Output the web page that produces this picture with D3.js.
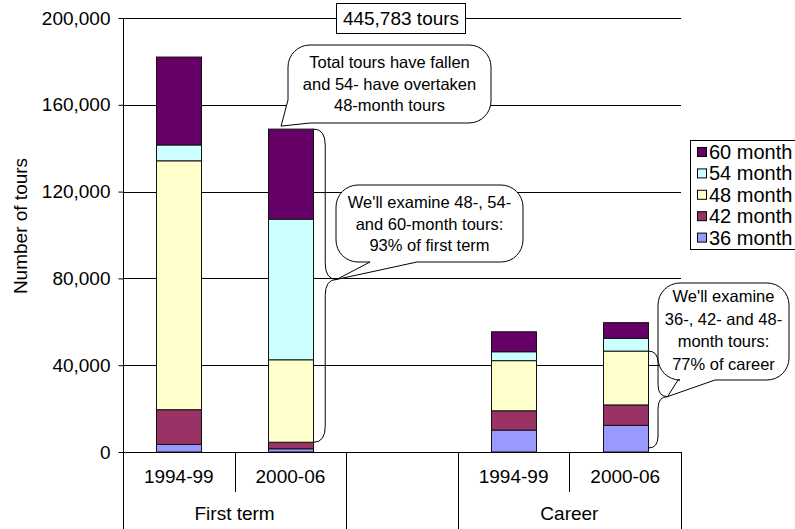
<!DOCTYPE html>
<html><head><meta charset="utf-8">
<script src="https://cdn.jsdelivr.net/npm/d3@7"></script>
<style>
body{margin:0;background:#fff}
svg{display:block}
text{font-family:"Liberation Sans",Arial,sans-serif;fill:#000}
</style>
</head><body>
<svg id="chart" width="795" height="529"></svg>
<script>
// ---- data ----
const categories = ["1994-99", "2000-06", "", "1994-99", "2000-06"];
const groups = ["First term", "Career"];
const groupSpans = [[0, 1], [3, 4]];
const seriesNames = ["36 month", "42 month", "48 month", "54 month", "60 month"];
const m36 = [3500, 1500, 0, 10100, 12300];
const m42 = [16000, 3000, 0, 8900, 9400];
const m48 = [114700, 38000, 0, 23100, 24800];
const m54 = [7300, 64800, 0, 4100, 5900];
const m60 = [40500, 41500, 0, 9200, 7200];
const seriesColors = ["#9999FF", "#993366", "#FFFFCC", "#CCFFFF", "#660066"];
const yTicks = [0, 40000, 80000, 120000, 160000, 200000];
const totalLabel = "445,783 tours";
const yTitle = "Number of tours";
const note1 = ["Total tours have fallen", "and 54- have overtaken", "48-month tours"];
const note2 = ["We'll examine 48-, 54-", "and 60-month tours:", "93% of first term"];
const note3 = ["We'll examine", "36-, 42- and 48-", "month tours:", "77% of career"];

// ---- build ----
const svg = d3.select("#chart");
const L = 123, R = 681, T = 18, B = 452;
const x = d3.scaleBand().domain(d3.range(categories.length)).range([L, R]).padding(0);
const y = d3.scaleLinear().domain([0, 200000]).range([B, T]);
const bw = x.bandwidth() * 0.4;
const bx = i => x(i) + (x.bandwidth() - bw) / 2;

const seriesArr = [m36, m42, m48, m54, m60];
const rows = categories.map((c, i) => {
  const o = {i};
  seriesNames.forEach((s, k) => o[s] = seriesArr[k][i]);
  return o;
});
const stacked = d3.stack().keys(seriesNames)(rows);
const color = d3.scaleOrdinal().domain(seriesNames).range(seriesColors);

// gridlines
svg.append("g").selectAll("line").data(yTicks.filter(d => d > 0)).join("line")
  .attr("x1", L).attr("x2", R).attr("y1", d => Math.round(y(d)) + 0.5).attr("y2", d => Math.round(y(d)) + 0.5)
  .attr("stroke", "#000").attr("stroke-width", 1);

// bars
svg.append("g").selectAll("g").data(stacked).join("g")
  .attr("fill", d => color(d.key))
  .selectAll("rect").data(d => d.filter(s => s[1] - s[0] > 0)).join("rect")
  .attr("x", d => Math.round(bx(d.data.i)) + 0.5)
  .attr("width", Math.round(bw))
  .attr("y", d => y(d[1]))
  .attr("height", d => y(d[0]) - y(d[1]))
  .attr("stroke", "#111").attr("stroke-width", 1);

// y axis
const yAxis = d3.axisLeft(y).tickValues(yTicks).tickFormat(d3.format(",")).tickSize(5).tickSizeOuter(0).tickPadding(8);
const ya = svg.append("g").attr("transform", `translate(${L + 0.5},0)`).call(yAxis);
ya.select(".domain").remove();
ya.selectAll("line").attr("stroke", "#000");
ya.selectAll("text").attr("font-size", 19).attr("font-family", "Liberation Sans, Arial, sans-serif");
svg.append("line").attr("x1", L + 0.5).attr("x2", L + 0.5).attr("y1", T).attr("y2", 529).attr("stroke", "#000");

// x axis
svg.append("line").attr("x1", L).attr("x2", R).attr("y1", B + 0.5).attr("y2", B + 0.5).attr("stroke", "#000");
const bounds = d3.range(categories.length + 1).map(i => i < categories.length ? x(i) : R);
const groupEdges = new Set([0, 2, 3, 5]);
svg.append("g").selectAll("line").data(bounds).join("line")
  .attr("x1", d => Math.round(d) + 0.5).attr("x2", d => Math.round(d) + 0.5)
  .attr("y1", B).attr("y2", (d, i) => groupEdges.has(i) ? 529 : 492)
  .attr("stroke", "#000");
svg.append("g").selectAll("text").data(categories).join("text")
  .attr("x", (d, i) => x(i) + x.bandwidth() / 2).attr("y", 483)
  .attr("text-anchor", "middle").attr("font-size", 19).text(d => d);
svg.append("g").selectAll("text").data(groups).join("text")
  .attr("x", (d, i) => (x(groupSpans[i][0]) + x(groupSpans[i][1]) + x.bandwidth()) / 2).attr("y", 520)
  .attr("text-anchor", "middle").attr("font-size", 19).text(d => d);

// y title
svg.append("text").attr("transform", "translate(27,226) rotate(-90)")
  .attr("text-anchor", "middle").attr("font-size", 19).text(yTitle);

// braces
function brace(x0, yTop, yBot, w, r, frac) {
  const xm = x0 + w / 2, xt = x0 + w, ym = yTop + (yBot - yTop) * frac;
  return `M${x0},${yTop} Q${xm},${yTop} ${xm},${yTop + r} V${ym - r} Q${xm},${ym} ${xt},${ym} Q${xm},${ym} ${xm},${ym + r} V${yBot - r} Q${xm},${yBot} ${x0},${yBot}`;
}
const b1x = bx(1) + bw + 1, b1top = y(d3.sum(seriesArr, s => s[1])), b1bot = y(m36[1] + m42[1]);
const b1frac = 0.48;
svg.append("path").attr("d", brace(b1x, b1top, b1bot, 23, 16, b1frac)).attr("fill", "none").attr("stroke", "#000");
const tip1 = [b1x + 23, b1top + (b1bot - b1top) * b1frac];
const b2x = bx(4) + bw + 1, b2top = y(m36[4] + m42[4] + m48[4]), b2bot = y(0) - 4;
const b2frac = 0.47;
svg.append("path").attr("d", brace(b2x, b2top, b2bot, 19, 12, b2frac)).attr("fill", "none").attr("stroke", "#000");
const tip2 = [b2x + 19, b2top + (b2bot - b2top) * b2frac];

// callouts
function calloutBottom(x0, y0, x1, y1, r, wr, tip, wl) {
  return `M${x0 + r},${y0} H${x1 - r} A${r},${r} 0 0 1 ${x1},${y0 + r} V${y1 - r} A${r},${r} 0 0 1 ${x1 - r},${y1}` +
    ` H${wr} L${tip[0]},${tip[1]} L${wl},${y1} H${x0 + r} A${r},${r} 0 0 1 ${x0},${y1 - r} V${y0 + r} A${r},${r} 0 0 1 ${x0 + r},${y0} Z`;
}
function calloutCornerBL(x0, y0, x1, y1, r, wb, tip, wl) {
  return `M${x0 + r},${y0} H${x1 - r} A${r},${r} 0 0 1 ${x1},${y0 + r} V${y1 - r} A${r},${r} 0 0 1 ${x1 - r},${y1}` +
    ` H${wb} L${tip[0]},${tip[1]} L${x0},${wl} V${y0 + r} A${r},${r} 0 0 1 ${x0 + r},${y0} Z`;
}
function addNote(d, lines, cx, y0, lh, fs) {
  svg.append("path").attr("d", d).attr("fill", "#fff").attr("stroke", "#000").attr("stroke-width", 1);
  svg.append("g").selectAll("text").data(lines).join("text")
    .attr("x", cx).attr("y", (t, i) => y0 + i * lh).attr("text-anchor", "middle")
    .attr("font-size", fs).text(t => t);
}
const barTop1 = [bx(1) + 13, y(d3.sum(seriesArr, s => s[1])) - 3];
addNote(calloutCornerBL(288, 45, 491, 123, 22, 310, barTop1, 100), note1, 389.5, 68, 21.5, 16.5);
addNote(calloutBottom(336, 185, 523, 262, 22, 417, tip1, 370), note2, 429.5, 208, 21.5, 16.5);
addNote(calloutBottom(658, 283, 789, 380, 22, 715, tip2, 678), note3, 723.5, 302, 22.5, 16.5);

// total box
svg.append("rect").attr("x", 336.5).attr("y", 3.5).attr("width", 129).attr("height", 30)
  .attr("fill", "#fff").attr("stroke", "#000");
svg.append("text").attr("x", 401).attr("y", 25).attr("text-anchor", "middle").attr("font-size", 19).text(totalLabel);

// legend
const lg = svg.append("g");
lg.append("rect").attr("x", 690.5).attr("y", 140.5).attr("width", 120).attr("height", 109)
  .attr("fill", "#fff").attr("stroke", "#000");
const legendOrder = seriesNames.slice().reverse();
const li = lg.selectAll("g").data(legendOrder).join("g")
  .attr("transform", (d, i) => `translate(697,${152 + i * 21.4})`);
li.append("rect").attr("x", 0.5).attr("y", -4.5).attr("width", 9).attr("height", 9)
  .attr("fill", d => color(d)).attr("stroke", "#000");
li.append("text").attr("x", 12).attr("y", 7).attr("font-size", 20).text(d => d);
</script>
</body></html>
